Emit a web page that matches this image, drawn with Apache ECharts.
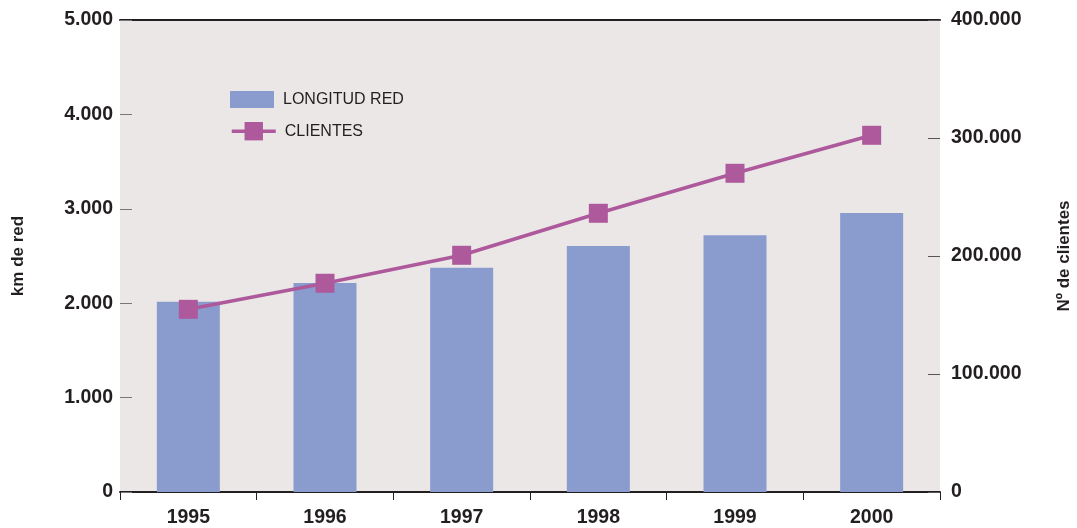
<!DOCTYPE html>
<html>
<head>
<meta charset="utf-8">
<script src="https://cdn.jsdelivr.net/npm/echarts@6/dist/echarts.min.js"></script>
<style>
  html, body { margin: 0; padding: 0; background: #fff; }
  #chart { width: 1077px; height: 528px; }
</style>
</head>
<body>
<div id="chart"></div>
<script>
// datos del gráfico
var years = ['1995', '1996', '1997', '1998', '1999', '2000'];
var longitudRed = [2015, 2215, 2375, 2605, 2720, 2955];
var clientes = [154800, 176900, 200600, 236200, 270100, 302300];

function fmt(v) {
  return String(v).replace(/\B(?=(\d{3})+(?!\d))/g, '.');
}

var labelStyle = {
  color: '#231f20',
  fontFamily: 'Liberation Sans',
  fontWeight: 'bold',
  fontSize: 19.5
};
var nameStyle = { color: '#231f20', fontFamily: 'Liberation Sans', fontWeight: 'bold', fontSize: 17 };
var legendText = { color: '#231f20', fontFamily: 'Liberation Sans', fontSize: 16, padding: [0, 0, 0, 4] };

var myChart = echarts.init(document.getElementById('chart'));
myChart.setOption({
  animation: false,
  grid: {
    left: 120, right: 137, top: 20, bottom: 36,
    outerBoundsMode: 'none',
    containLabel: false,
    show: true, backgroundColor: '#ebe7e7', borderWidth: 0
  },
  legend: [{
    left: 230, top: 91, padding: 0,
    itemWidth: 44, itemHeight: 17,
    icon: 'rect',
    textStyle: legendText,
    data: ['LONGITUD RED']
  }, {
    left: 230, top: 122, padding: 0,
    itemWidth: 44, itemHeight: 23,
    lineStyle: { width: 3.5 },
    textStyle: legendText,
    data: ['CLIENTES']
  }],
  xAxis: [{
    type: 'category',
    data: years,
    axisLine: { lineStyle: { color: '#231f20', width: 2 } },
    axisTick: { show: true, length: 8, lineStyle: { color: '#231f20' } },
    axisLabel: Object.assign({ margin: 16 }, labelStyle)
  }, {
    // línea superior
    type: 'category',
    position: 'top',
    data: years,
    axisLine: { onZero: false, lineStyle: { color: '#231f20', width: 2 } },
    axisTick: { show: false },
    axisLabel: { show: false }
  }],
  yAxis: [{
    type: 'value',
    min: 0, max: 5000, interval: 1000,
    name: 'km de red',
    nameLocation: 'middle',
    nameRotate: 90,
    nameGap: 93,
    nameTextStyle: nameStyle,
    axisLine: { show: false },
    axisTick: { show: true, inside: true, length: 12, lineStyle: { color: '#777' } },
    splitLine: { show: false },
    axisLabel: Object.assign({ margin: 7, formatter: fmt }, labelStyle)
  }, {
    type: 'value',
    min: 0, max: 400000, interval: 100000,
    name: 'Nº de clientes',
    nameLocation: 'middle',
    nameRotate: 90,
    nameGap: 116,
    nameTextStyle: nameStyle,
    axisLine: { show: false },
    axisTick: { show: true, inside: true, length: 12, lineStyle: { color: '#555' } },
    splitLine: { show: false },
    axisLabel: Object.assign({ margin: 11, formatter: fmt }, labelStyle)
  }],
  series: [{
    name: 'LONGITUD RED',
    type: 'bar',
    data: longitudRed,
    barWidth: 63,
    itemStyle: { color: '#8a9bcd' }
  }, {
    name: 'CLIENTES',
    type: 'line',
    yAxisIndex: 1,
    data: clientes,
    symbol: 'rect',
    symbolSize: 19,
    lineStyle: { color: '#ad599c', width: 3.5 },
    itemStyle: { color: '#ad599c' }
  }]
});
</script>
</body>
</html>
